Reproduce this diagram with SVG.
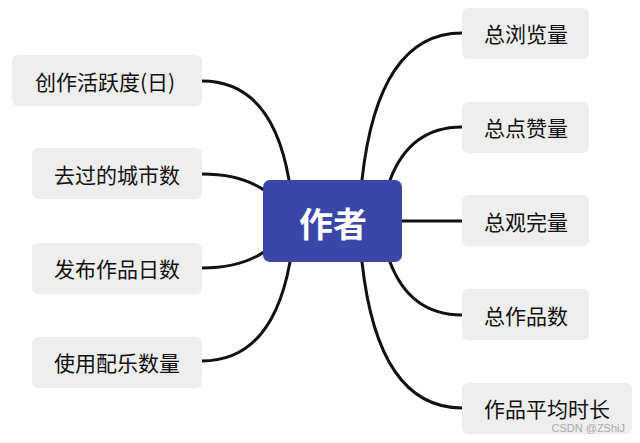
<svg xmlns="http://www.w3.org/2000/svg" width="640" height="443" viewBox="0 0 640 443">
<style>
.box{fill:#eeeeee;}
.lbl{font-family:"Noto Sans CJK SC","Noto Sans",sans-serif;font-size:21px;fill:#111;text-anchor:middle;dominant-baseline:central;}
.con{fill:none;stroke:#111;stroke-width:3;stroke-linecap:round;}
</style>
<rect width="640" height="443" fill="#ffffff"/>
<g id="connectors">
<path class="con" d="M202,81 Q272,81 289,180"/>
<path class="con" d="M202,174 Q240,174 264,190"/>
<path class="con" d="M202,268 Q240,268 264,252"/>
<path class="con" d="M202,361 Q272,361 290,262"/>
<path class="con" d="M362,180 Q378,33 462,33"/>
<path class="con" d="M390,180 Q410,127 462,127"/>
<path class="con" d="M402,221 L462,221"/>
<path class="con" d="M390,262 Q410,315 462,315"/>
<path class="con" d="M362,262 Q378,408 462,408"/>
</g>
<g id="center">
<rect x="263" y="180" width="139" height="82" rx="7" fill="#3a47a8"/>
<text x="333" y="222" font-family="'Noto Sans CJK SC','Noto Sans',sans-serif" font-size="34" font-weight="bold" fill="#ffffff" text-anchor="middle" dominant-baseline="central">作者</text>
</g>
<g id="n-l1"><rect class="box" x="12" y="55" width="190" height="51" rx="6"/><text class="lbl" x="105" y="81">创作活跃度(日)</text></g>
<g id="n-l2"><rect class="box" x="32" y="148" width="170" height="51" rx="6"/><text class="lbl" x="117" y="174">去过的城市数</text></g>
<g id="n-l3"><rect class="box" x="32" y="243" width="170" height="51" rx="6"/><text class="lbl" x="117" y="268">发布作品日数</text></g>
<g id="n-l4"><rect class="box" x="32" y="337" width="170" height="51" rx="6"/><text class="lbl" x="117" y="362">使用配乐数量</text></g>
<g id="n-r1"><rect class="box" x="462" y="8" width="127" height="51" rx="6"/><text class="lbl" x="526" y="33">总浏览量</text></g>
<g id="n-r2"><rect class="box" x="462" y="102" width="127" height="51" rx="6"/><text class="lbl" x="526" y="127">总点赞量</text></g>
<g id="n-r3"><rect class="box" x="462" y="195" width="127" height="51" rx="6"/><text class="lbl" x="526" y="221">总观完量</text></g>
<g id="n-r4"><rect class="box" x="462" y="289" width="127" height="51" rx="6"/><text class="lbl" x="526" y="315">总作品数</text></g>
<g id="n-r5"><rect class="box" x="462" y="383" width="170" height="51" rx="6"/><text class="lbl" x="547" y="408">作品平均时长</text></g>
<text x="625" y="432" font-family="'Liberation Sans',Arial,sans-serif" font-size="11" fill="#aaaaaa" text-anchor="end">CSDN @ZShiJ</text>
</svg>
